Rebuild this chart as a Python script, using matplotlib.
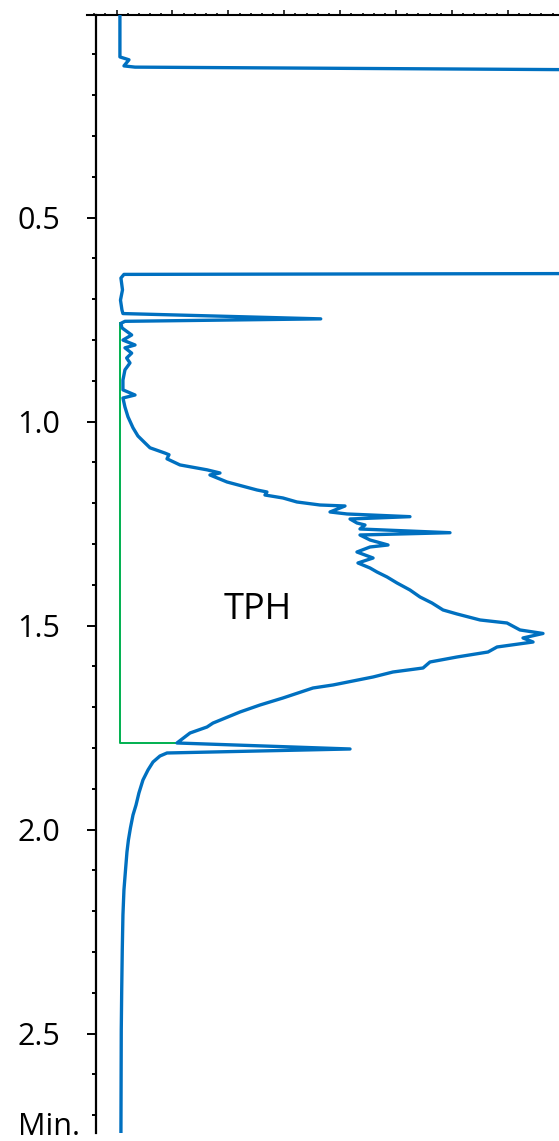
import numpy as np
import matplotlib
matplotlib.use("Agg")
import matplotlib.pyplot as plt
from matplotlib.ticker import MultipleLocator, FixedLocator, FormatStrFormatter

plt.rcParams['font.family'] = ['Open Sans', 'DejaVu Sans']

# chromatogram trace: retention time (min) and detector signal (mV)
time_min = [0.000, 0.106, 0.113, 0.128, 0.131, 0.150, 0.633, 0.639, 0.648, 0.677,
            0.702, 0.726, 0.735, 0.748, 0.754, 0.759, 0.770, 0.7875, 0.800, 0.812,
            0.819, 0.832, 0.844, 0.856, 0.873, 0.898, 0.922, 0.9346, 0.942, 0.964,
            0.988, 1.015, 1.035, 1.052, 1.064, 1.077, 1.081, 1.091, 1.106, 1.118,
            1.1257, 1.1306, 1.1478, 1.1674, 1.1723, 1.1797, 1.1870, 1.1968, 1.2042, 1.2066,
            1.2213, 1.2262, 1.2328, 1.2385, 1.2483, 1.2532, 1.2630, 1.2721, 1.2777, 1.2900,
            1.3022, 1.3071, 1.3194, 1.3341, 1.3463, 1.3586, 1.3684, 1.3806, 1.3953, 1.4125,
            1.4297, 1.4444, 1.4615, 1.4713, 1.4860, 1.4934, 1.5105, 1.5191, 1.5301, 1.5400,
            1.5522, 1.5645, 1.5767, 1.5890, 1.6037, 1.6135, 1.6257, 1.6453, 1.6527, 1.6772,
            1.6944, 1.7115, 1.7387, 1.7483, 1.7630, 1.7875, 1.8022, 1.8120, 1.8194, 1.8341,
            1.8537, 1.8782, 1.9100, 1.9395, 1.9640, 1.9958, 2.0252, 2.0547, 2.0988, 2.1478,
            2.2091, 2.2949, 2.3929, 2.4909, 2.7434]
signal_mv = [3.0, 3.0, 11.1, 6.6, 16.5, 1200.0, 1200.0, 6.6, 3.9, 5.3,
             3.5, 4.8, 5.7, 182.6, 7.5, 3.9, 4.8, 13.5, 5.7, 16.5,
             7.5, 13.5, 9.0, 12.0, 7.5, 5.7, 5.7, 16.5, 5.7, 7.5,
             10.2, 14.7, 19.1, 25.4, 29.9, 43.3, 46.9, 45.1, 56.7, 80.9,
             92.5, 83.5, 98.8, 125.6, 134.5, 132.7, 148.8, 161.3, 181.9, 204.3,
             190.9, 206.1, 262.4, 208.8, 215.0, 222.2, 217.7, 298.2, 217.7, 226.7,
             242.8, 226.7, 215.0, 229.4, 215.9, 226.7, 232.9, 241.9, 250.8, 262.4,
             271.4, 282.1, 292.0, 304.5, 325.1, 349.2, 360.8, 381.4, 363.5, 372.5,
             340.3, 332.2, 304.5, 280.3, 274.1, 247.2, 229.4, 193.6, 175.7, 148.8,
             128.3, 110.4, 86.2, 80.9, 65.7, 54.0, 208.8, 45.1, 38.8, 32.6,
             28.1, 23.6, 20.0, 17.4, 14.7, 12.4, 10.6, 9.3, 8.0, 6.6,
             5.7, 5.1, 4.6, 4.2, 3.9]

# integration baseline (green)
baseline_time = [0.759, 1.7875, 1.7875]
baseline_signal = [3.0, 3.0, 54.0]

y_ticks = [0.5, 1.0, 1.5, 2.0, 2.5]

W, H = 559, 1141
fig = plt.figure(figsize=(W / 100, H / 100), dpi=100)
ax = fig.add_axes([86.6 / W, 1 - 1133 / H, (W - 86.6) / W, (1133 - 14.7) / H])

ax.plot(signal_mv, time_min, color='#0070C0', lw=2.4, solid_joinstyle='round',
        solid_capstyle='round', zorder=3)
ax.plot(baseline_signal, baseline_time, color='#00B050', lw=1.4, zorder=2)

ax.text(126.5, 1.4615, 'TPH', fontsize=26, ha='center', va='center')

ax.set_xlim(-26.8, 395.7)
ax.set_ylim(2.7434, 0.0025)

for s in ['right', 'bottom']:
    ax.spines[s].set_visible(False)
ax.spines['left'].set_position(('axes', 8.9 / 472.4))
ax.spines['left'].set_linewidth(1.6)
ax.spines['top'].set_linewidth(1.5)

ax.xaxis.tick_top()
ax.xaxis.set_major_locator(MultipleLocator(50))
ax.xaxis.set_minor_locator(MultipleLocator(10))
ax.tick_params(axis='x', which='both', labeltop=False, direction='out', width=1.1)
ax.tick_params(axis='x', which='major', length=3.8)
ax.tick_params(axis='x', which='minor', length=1.8)

ax.yaxis.set_major_locator(FixedLocator(y_ticks))
ax.yaxis.set_minor_locator(MultipleLocator(0.1))
ax.yaxis.set_major_formatter(FormatStrFormatter('%.1f'))
ax.tick_params(axis='y', which='major', length=6.5, width=1.4, pad=19, labelsize=22)
ax.tick_params(axis='y', which='minor', length=3.2, width=1.4)

fig.text(80 / W, 1 - 1127 / H, 'Min.', fontsize=22, ha='right', va='center')

fig.savefig('out.png', dpi=100)
